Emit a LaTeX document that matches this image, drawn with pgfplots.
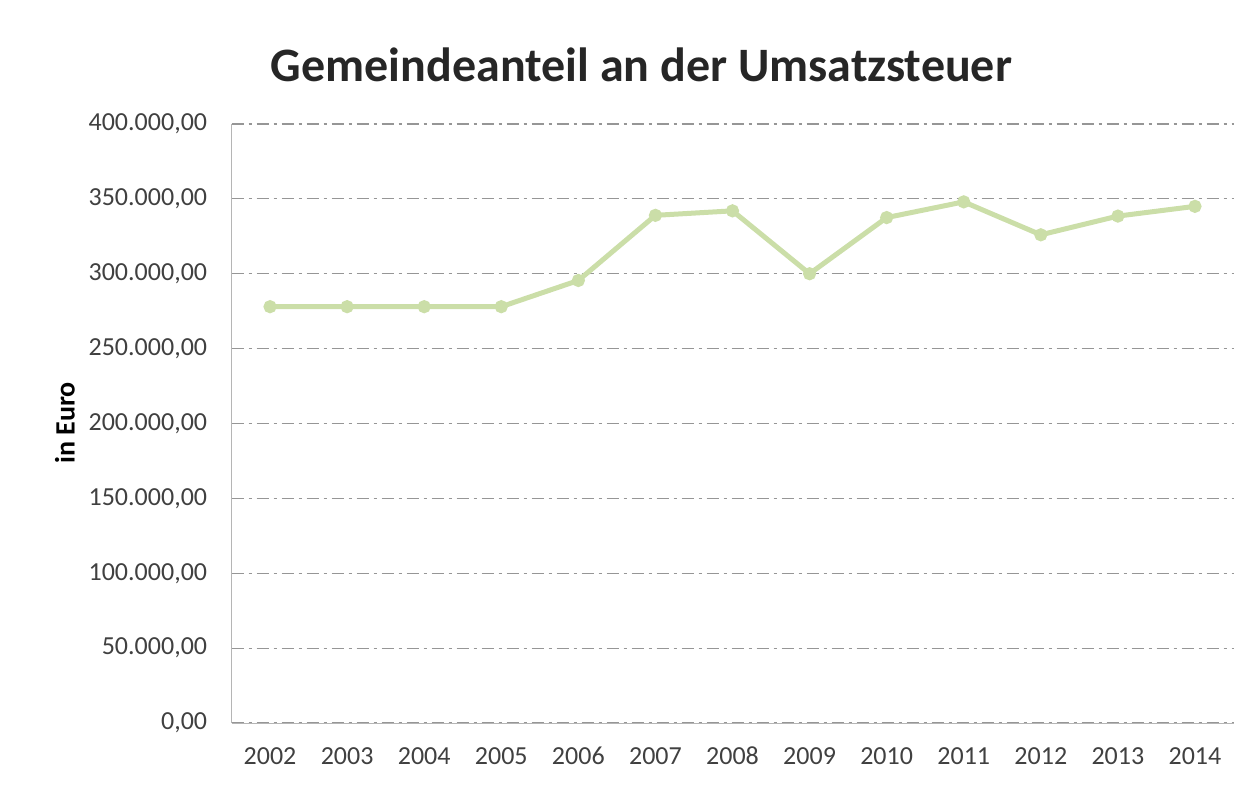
\documentclass[border=0pt]{standalone}
\usepackage{pgfplots}
\pgfplotsset{compat=1.18}
\usepackage{fontspec}
\setmainfont{Carlito}
\definecolor{linegreen}{RGB}{203,222,168}
\definecolor{ticktext}{RGB}{64,64,64}
\definecolor{gridgray}{RGB}{150,150,150}
\begin{document}
\begin{tikzpicture}
\begin{axis}[
  at={(0,0)}, anchor=south west,
  scale only axis,
  width=501pt, height=299.5pt,
  xmin=-0.5, xmax=12.5,
  ymin=0, ymax=400000,
  xtick={0,...,12},
  xticklabels={2002,2003,2004,2005,2006,2007,2008,2009,2010,2011,2012,2013,2014},
  ytick={0,50000,100000,150000,200000,250000,300000,350000,400000},
  yticklabels={{0,00},{50.000,00},{100.000,00},{150.000,00},{200.000,00},{250.000,00},{300.000,00},{350.000,00},{400.000,00}},
  scaled y ticks=false,
  major tick length=0pt,
  axis x line*=bottom, axis y line*=left,
  axis line style={draw=gridgray!70, -},
  ymajorgrids,
  major grid style={draw=gridgray, line width=0.6pt, dash pattern=on 6pt off 2.5pt on 1.5pt off 2.5pt},
  tick label style={font=\fontsize{13}{15}\selectfont, text=ticktext},
  yticklabel style={anchor=east, inner sep=0pt},
  yticklabel shift=12pt,
  xticklabel style={anchor=base, inner sep=0pt},
  xticklabel shift=21pt,
  clip=false,
]
\addplot[color=linegreen, line width=2.5pt, mark=*, mark size=2pt, mark options={fill=linegreen, draw=linegreen}]
coordinates {
(0,278000) (1,278000) (2,278000) (3,278000) (4,295500) (5,339000) (6,342000)
(7,300000) (8,337500) (9,348000) (10,326000) (11,338500) (12,345000)
};
\end{axis}
\node[font=\bfseries\fontsize{24}{28}\selectfont, text={rgb,255:red,38;green,38;blue,38}] at (205pt,329pt) {Gemeindeanteil an der Umsatzsteuer};
\node[rotate=90, font=\bfseries\fontsize{14}{17}\selectfont, text=black] at (-83.25pt,150pt) {in Euro};
\path[use as bounding box] (-115.75pt,-31pt) rectangle (509.75pt,361.5pt);
\end{tikzpicture}
\end{document}
